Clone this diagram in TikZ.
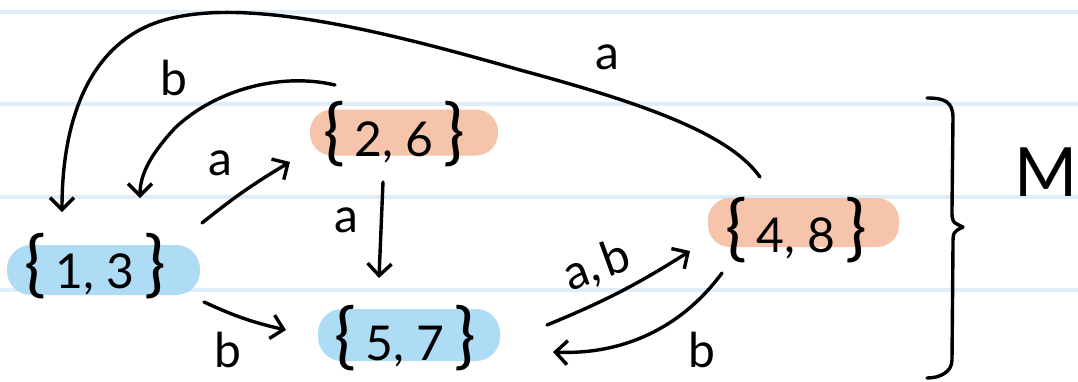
\documentclass[tikz,border=0pt]{standalone}
\usepackage{fontspec}
\setmainfont{Lato}
\usetikzlibrary{arrows.meta}
\definecolor{paperline}{RGB}{222,237,248}
\definecolor{hlblue}{RGB}{174,220,244}
\definecolor{hlorange}{RGB}{246,196,171}
\newcommand{\mylb}{{\fontsize{36}{36}\selectfont\{}}
\newcommand{\myrb}{{\fontsize{36}{36}\selectfont\}}}
\tikzset{
  ink/.style={line width=1.7pt, line cap=round, line join=round},
  arr/.style={ink, -{Straight Barb[length=6pt,width=12pt]}},
  hlb/.style={fill=hlblue, rounded corners=12pt, inner sep=0pt},
  hlo/.style={fill=hlorange, rounded corners=11pt, inner sep=0pt},
  settext/.style={font=\fontsize{24}{28}\selectfont, inner sep=0pt},
  lbl/.style={font=\fontsize{24}{28}\selectfont, inner sep=0pt},
  rule/.style={paperline, line width=2pt},
}
\begin{document}
\begin{tikzpicture}[x=0.5pt,y=-0.5pt]
\fill[white] (0,0) rectangle (1078,381);
\useasboundingbox (0,0) rectangle (1078,381);
% paper lines
\foreach \yy in {12,104,197,290} \draw[rule] (0,\yy) -- (1078,\yy);
% highlights
\node[hlb, minimum width=96.5pt, minimum height=25pt] (h13) at (103.5,270) {};
\node[hlo, minimum width=94pt, minimum height=23pt] (h26) at (404,132.5) {};
\node[hlb, minimum width=91pt, minimum height=26pt] (h57) at (409,335) {};
\node[hlo, minimum width=95.5pt, minimum height=24.5pt] (h48) at (803.5,222.5) {};
% state texts
\node[settext] (n13) at (95,266) {\mylb\hspace{5pt}1,\hspace{6pt}3\hspace{5pt}\myrb};
\node[settext] (n26) at (394,134) {\mylb\hspace{5pt}2,\hspace{6pt}6\hspace{5pt}\myrb};
\node[settext] (n57) at (405,338) {\mylb\hspace{5pt}5,\hspace{6pt}7\hspace{5pt}\myrb};
\node[settext] (n48) at (796,230) {\mylb\hspace{5pt}4,\hspace{6pt}8\hspace{5pt}\myrb};
% transitions
\draw[arr] ([shift={(107,-43)}]n13.center) to[bend left=4] ([shift={(-104,28)}]n26.center);
\draw[arr] ([shift={(109,36)}]n13.center) to[bend right=6] ([shift={(-119,-8)}]n57.center);
\draw[arr] ([shift={(-11,48)}]n26.center) -- ([shift={(-26,-60)}]n57.center);
\draw[arr] ([shift={(142,-13)}]n57.center) to[bend right=5] ([shift={(-106,21)}]n48.center);
\draw[arr] ([shift={(-74,43)}]n48.center) .. controls (680,330) and (620,355) .. ([shift={(148,14)}]n57.center);
\draw[arr] ([shift={(-59,-49)}]n26.center) .. controls (280,72) and (215,90) .. (175,128)
   .. controls (150,155) and (140,175) .. ([shift={(45,-68)}]n13.center);
\draw[arr] ([shift={(-36,-53)}]n48.center) .. controls (730,135) and (650,105) .. (520,70)
   .. controls (380,30) and (230,-8) .. (150,25)
   .. controls (95,48) and (62,110) .. ([shift={(-33,-54)}]n13.center);
% labels
\node[lbl] (la1) at (220,163) {a};
\node[lbl] (lb1) at (228,350) {b};
\node[lbl] (la2) at (346,220) {a};
\node[lbl, rotate=20] (lab) at (597,266) {a,\hspace{3pt}b};
\node[lbl] (lb2) at (702,350) {b};
\node[lbl] (lb3) at (174,78) {b};
\node[lbl] (la3) at (607,57) {a};
% brace and M
\draw[ink] (927,98) .. controls (945,98) and (953,102) .. (953,118) -- (952,210)
   .. controls (952,222) .. (963,227) .. controls (953,232) .. (953,245)
   -- (952,360) .. controls (952,372) and (940,378) .. (927,378);
\node[font=\fontsize{34}{38}\selectfont, inner sep=0pt] (M) at (1046,172) {M};
\end{tikzpicture}
\end{document}
